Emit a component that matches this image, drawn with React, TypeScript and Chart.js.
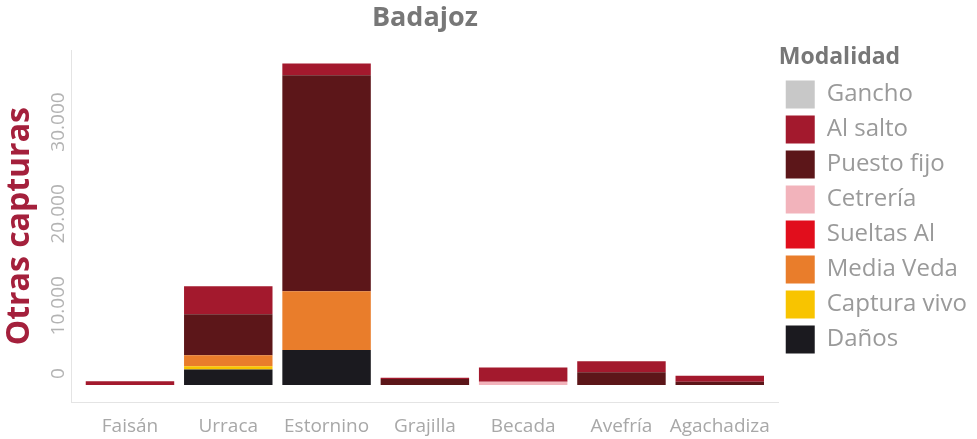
import React, { useEffect, useRef } from 'react';
import { Chart, registerables } from 'chart.js';

Chart.register(...registerables);

const FONT = "'Open Sans', 'Noto Sans', sans-serif";

const categories = ['Faisán', 'Urraca', 'Estornino', 'Grajilla', 'Becada', 'Avefría', 'Agachadiza'];

// Stack order: bottom -> top
const danos = [0, 1700, 3800, 0, 0, 0, 0];
const capturaVivo = [0, 350, 0, 0, 0, 0, 0];
const mediaVeda = [0, 1200, 6400, 0, 0, 0, 0];
const sueltasAl = [0, 0, 0, 0, 0, 0, 0];
const cetreria = [0, 0, 0, 0, 350, 0, 0];
const puestoFijo = [0, 4450, 23500, 650, 0, 1400, 350];
const alSalto = [400, 3050, 1300, 150, 1550, 1200, 650];
const gancho = [0, 0, 0, 0, 0, 0, 0];

const yTickValues = [0, 10000, 20000, 30000];

const seriesNames = ['Daños', 'Captura vivo', 'Media Veda', 'Sueltas Al', 'Cetrería', 'Puesto fijo', 'Al salto', 'Gancho'];
const seriesValues = [danos, capturaVivo, mediaVeda, sueltasAl, cetreria, puestoFijo, alSalto, gancho];
const seriesColors = ['#1b1a1f', '#f8c400', '#e97d2b', '#e10e1c', '#f2b3bb', '#5c1619', '#a3192d', '#c8c8c8'];

const fmt = (v: number) => String(v).replace(/\B(?=(\d{3})+(?!\d))/g, '.');

export default function App() {
  const ref = useRef<HTMLCanvasElement | null>(null);

  useEffect(() => {
    if (!ref.current) return;
    const chart = new Chart(ref.current, {
      type: 'bar',
      data: {
        datasets: seriesNames.map((name, si) => ({
          label: name,
          data: categories.map((_, i) => ({ x: i, y: seriesValues[si][i] })),
          backgroundColor: seriesColors[si],
          borderWidth: 0,
          barPercentage: 0.9,
          categoryPercentage: 1.0,
        })),
      },
      options: {
        animation: false,
        responsive: true,
        maintainAspectRatio: false,
        layout: { padding: { left: 0, right: 0, top: 0, bottom: 0 } },
        plugins: {
          title: {
            display: true,
            text: 'Badajoz',
            fullSize: false,
            color: '#777777',
            font: { family: FONT, size: 27, weight: 'bold' },
            padding: { top: 2, bottom: 16 },
          },
          legend: {
            position: 'right',
            align: 'start',
            reverse: true,
            title: {
              display: true,
              text: 'Modalidad',
              position: 'start',
              color: '#777777',
              font: { family: FONT, size: 23, weight: 'bold' },
              padding: { top: 46, bottom: 0 },
            },
            labels: {
              boxWidth: 29,
              boxHeight: 28,
              padding: 7,
              color: '#9a9a9a',
              font: { family: FONT, size: 24 },
            },
          },
          tooltip: { enabled: false },
        },
        scales: {
          x: {
            type: 'linear',
            stacked: true,
            offset: false,
            min: -0.6,
            max: 6.6,
            grid: { display: false, drawTicks: false, offset: false },
            border: { display: true, color: '#e4e4e4', width: 1 },
            afterBuildTicks: (axis: any) => {
              axis.ticks = categories.map((_, i) => ({ value: i }));
            },
            afterFit: (axis: any) => {
              axis.height = 37;
            },
            ticks: {
              autoSkip: false,
              maxRotation: 0,
              minRotation: 0,
              color: '#a8a8a8',
              font: { family: FONT, size: 19 },
              padding: 13,
              callback: (v: any) => categories[v as number] ?? '',
            },
          },
          y: {
            stacked: true,
            min: -1848,
            max: 36413,
            grid: { display: false, drawTicks: false },
            border: { display: true, color: '#e4e4e4', width: 1 },
            afterBuildTicks: (axis: any) => {
              axis.ticks = yTickValues.map((v) => ({ value: v }));
            },
            afterFit: (axis: any) => {
              axis.width = 71;
            },
            ticks: {
              autoSkip: false,
              minRotation: 90,
              maxRotation: 90,
              labelOffset: -17,
              padding: 12,
              color: '#b3b3b3',
              font: { family: FONT, size: 19 },
              callback: (v: any) => fmt(v as number),
            },
            title: {
              display: true,
              text: 'Otras capturas',
              color: '#a4203c',
              font: { family: FONT, size: 32, weight: 'bold', lineHeight: 1 },
              padding: { top: 4, bottom: 0 },
            },
          },
        },
      },
    });
    return () => chart.destroy();
  }, []);

  return (
    <div style={{ position: 'fixed', left: 0, top: 0, width: 977, height: 439, background: '#ffffff' }}>
      <canvas ref={ref} />
    </div>
  );
}
